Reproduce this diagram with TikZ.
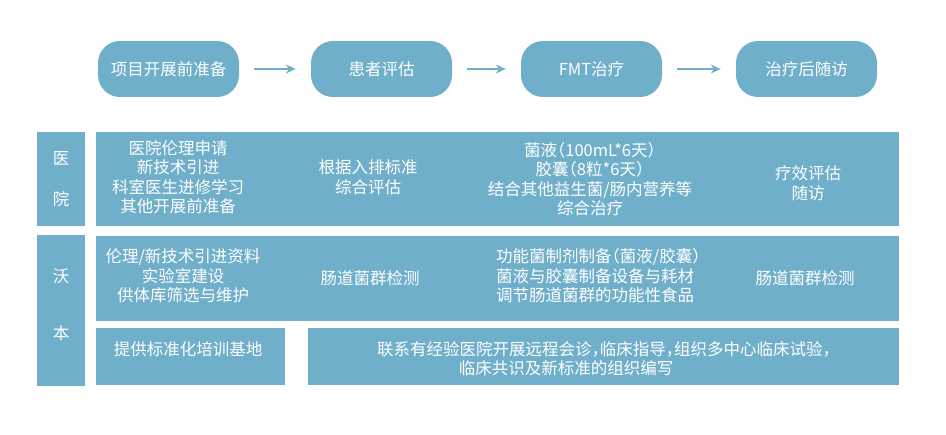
\documentclass[tikz,border=0pt]{standalone}
\usepackage{fontspec}
\setmainfont{Noto Sans CJK SC}[RawFeature=+halt]
\usetikzlibrary{arrows.meta}
\definecolor{fmtblue}{HTML}{6FAFCA}
\begin{document}
\begin{tikzpicture}[x=1pt,y=-1pt,
  cell/.style={fill=fmtblue, draw=none, inner sep=0pt},
  txt/.style={text=white, font=\fontsize{16.5}{19.5}\selectfont, inner sep=0pt, align=center},
  stage/.style={fill=fmtblue, rounded corners=22pt, minimum width=141pt, minimum height=56pt,
    text=white, font=\fontsize{16.5}{19.5}\selectfont, inner sep=0pt},
  flow/.style={draw=fmtblue, line width=1.3pt, -{Stealth[length=10pt,width=9pt]},
    shorten <=15pt, shorten >=15pt}
]
\useasboundingbox (0,0) rectangle (946,435);

% stages
\node[stage] (s1) at (168.5,69) {项目开展前准备};
\node[stage] (s2) at (381.5,69) {患者评估};
\node[stage] (s3) at (591.5,69) {FMT治疗};
\node[stage] (s4) at (806.5,69) {治疗后随访};
\draw[flow] (s1) -- (s2);
\draw[flow] (s2) -- (s3);
\draw[flow] (s3) -- (s4);

% cells
\node[cell, minimum width=48pt, minimum height=94pt] (hl) at (61,179) {};
\node[cell, minimum width=803pt, minimum height=94pt] (hr) at (497.5,179) {};
\node[cell, minimum width=48pt, minimum height=151pt] (wl) at (61,310.5) {};
\node[cell, minimum width=803pt, minimum height=85pt] (wr) at (497.5,278.5) {};
\node[cell, minimum width=189pt, minimum height=57pt] (wt) at (190.5,356.5) {};
\node[cell, minimum width=591pt, minimum height=57pt] (wm) at (603.5,356.5) {};

% labels
\node[txt] (l1) at (61,158) {医};
\node[txt] (l2) at (61,199) {院};
\node[txt] (l3) at (61,276) {沃};
\node[txt] (l4) at (61,333) {本};

% hospital row
\node[txt] (h1) at (178,177) {医院伦理申请\\新技术引进\\科室医生进修学习\\其他开展前准备};
\node[txt] (h2) at (368,177) {根据入排标准\\综合评估};
\node[txt] (h3) at (590,179) {菌液（100mL*6天）\\胶囊（8粒*6天）\\结合其他益生菌/肠内营养等\\综合治疗};
\node[txt] (h4) at (808,183) {疗效评估\\随访};

% wobn row
\node[txt] (w1) at (183,276) {伦理/新技术引进资料\\实验室建设\\供体库筛选与维护};
\node[txt] (w2) at (370,278) {肠道菌群检测};
\node[txt, align=left, anchor=west] (w3) at (496,276) {功能菌制剂制备（菌液/胶囊）\\菌液与胶囊制备设备与耗材\\调节肠道菌群的功能性食品};
\node[txt] (w4) at (805,278) {肠道菌群检测};

\node[txt] (t1) at (188,349) {提供标准化培训基地};
\node[txt] (m1) at (604,349) {联系有经验医院开展远程会诊，临床指导，组织多中心临床试验，};
\node[txt] (m2) at (566,368) {临床共识及新标准的组织编写};
\end{tikzpicture}
\end{document}
